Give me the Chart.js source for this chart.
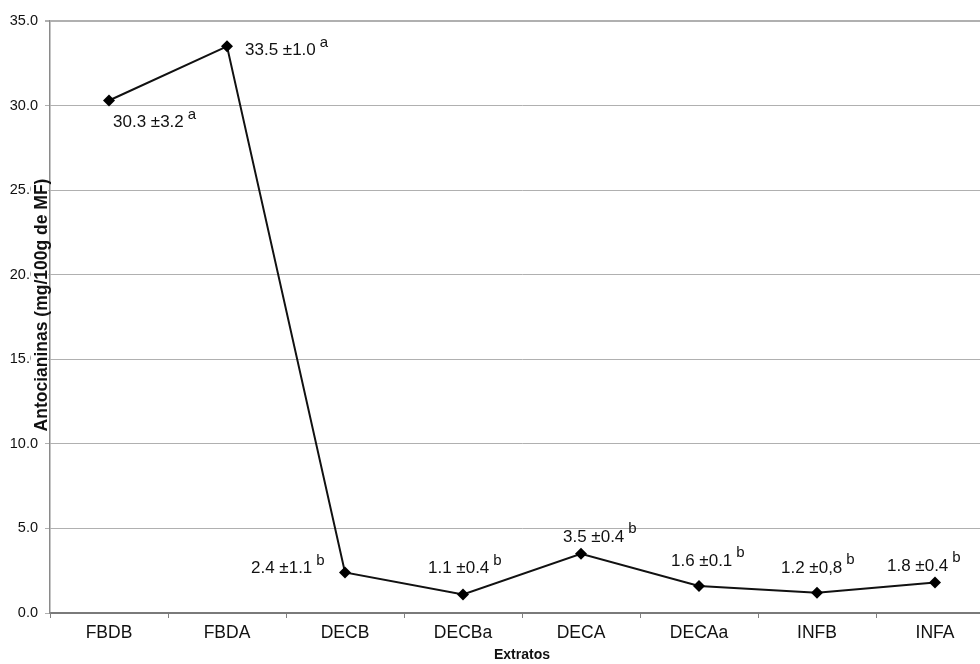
<!DOCTYPE html>
<html>
<head>
<meta charset="utf-8">
<script src="https://cdn.jsdelivr.net/npm/chart.js@4.4.0/dist/chart.umd.min.js"></script>
<style>
  html, body { margin: 0; padding: 0; background: #fff; overflow: hidden; }
  #wrap { width: 1000px; height: 664px; position: relative; }
</style>
</head>
<body>
<div id="wrap"><canvas id="myChart"></canvas></div>
<script>
// dados
const categories = ["FBDB", "FBDA", "DECB", "DECBa", "DECA", "DECAa", "INFB", "INFA"];
const means = [30.3, 33.5, 2.4, 1.1, 3.5, 1.6, 1.2, 1.8];
const deviations = ["3.2", "1.0", "1.1", "0.4", "0.4", "0.1", "0,8", "0.4"];
const letters = ["a", "a", "b", "b", "b", "b", "b", "b"];
const yTicks = [0, 5, 10, 15, 20, 25, 30, 35];

// posição dos rótulos (início do texto e linha de base, relativo ao ponto)
const labelOffsets = [
  [4, 27], [18, 9], [-94, 1], [-35, -21],
  [-18, -12], [-28, -20], [-36, -20], [-48, -12]
];

const FONT = "'Liberation Sans', Arial, sans-serif";

const pointLabels = {
  id: "pointLabels",
  afterDatasetsDraw(chart) {
    const ctx = chart.ctx;
    const meta = chart.getDatasetMeta(0);
    ctx.save();
    ctx.fillStyle = "#111";
    ctx.textBaseline = "alphabetic";
    ctx.textAlign = "left";
    meta.data.forEach((pt, i) => {
      const txt = means[i].toFixed(1) + " \u00b1" + deviations[i];
      const x = pt.x + labelOffsets[i][0];
      const y = pt.y + labelOffsets[i][1];
      ctx.font = "17px " + FONT;
      ctx.fillText(txt, x, y);
      const w = ctx.measureText(txt).width;
      ctx.font = "15px " + FONT;
      ctx.fillText(letters[i], x + w + 4, y - 8.5);
    });
    ctx.restore();
  }
};

const yTitle = {
  id: "yTitle",
  afterDraw(chart) {
    const ctx = chart.ctx;
    const text = "Antocianinas (mg/100g de MF)";
    ctx.save();
    ctx.translate(42, 305);
    ctx.rotate(-Math.PI / 2);
    ctx.font = "bold 17.5px " + FONT;
    const w = ctx.measureText(text).width;
    ctx.fillStyle = "#fff";
    ctx.fillRect(-w / 2 - 2, -11, w + 4, 17);
    ctx.fillStyle = "#111";
    ctx.textAlign = "center";
    ctx.textBaseline = "middle";
    ctx.fillText(text, 0, 0);
    ctx.restore();
  }
};

const ctx = document.getElementById("myChart").getContext("2d");
const myChart = new Chart(ctx, {
  type: "line",
  data: {
    labels: categories,
    datasets: [
      {
        data: means,
        borderColor: "#111",
        borderWidth: 2,
        pointStyle: "rectRot",
        pointRadius: 6,
        pointBackgroundColor: "#000",
        pointBorderColor: "#000",
        pointBorderWidth: 0,
        tension: 0,
        fill: false,
      },
    ],
  },
  options: {
    responsive: true,
    maintainAspectRatio: false,
    animation: false,
    layout: { padding: { top: 21, right: 5, left: 0, bottom: 0 } },
    plugins: {
      legend: { display: false },
      tooltip: { enabled: false },
    },
    scales: {
      x: {
        offset: true,
        grid: {
          display: true,
          offset: true,
          drawOnChartArea: false,
          tickLength: 5,
          color: "#808080",
        },
        border: { display: true, color: "#7a7a7a", width: 2 },
        ticks: {
          color: "#111",
          font: { family: FONT, size: 17.5 },
          padding: 5,
          maxRotation: 0,
        },
        title: {
          display: true,
          text: "Extratos",
          color: "#111",
          font: { family: FONT, size: 14, weight: "bold" },
          padding: { top: 4, bottom: 0 },
        },
        afterFit(scale) { scale.height = 51; },
      },
      y: {
        min: 0,
        max: 35,
        afterBuildTicks(scale) {
          scale.ticks = yTicks.map((v) => ({ value: v }));
        },
        grid: {
          color: "#b0b0b0",
          lineWidth: (c) => (c.tick && c.tick.value === 35 ? 2 : 1),
          tickLength: 5,
        },
        border: { display: true, color: "#8a8a8a", width: 1.5 },
        ticks: {
          color: "#111",
          font: { family: FONT, size: 14.5 },
          padding: 7,
          callback: (v) => Number(v).toFixed(1),
        },
        afterFit(scale) { scale.width = 50; },
      },
    },
  },
  plugins: [pointLabels, yTitle],
});
</script>
</body>
</html>
